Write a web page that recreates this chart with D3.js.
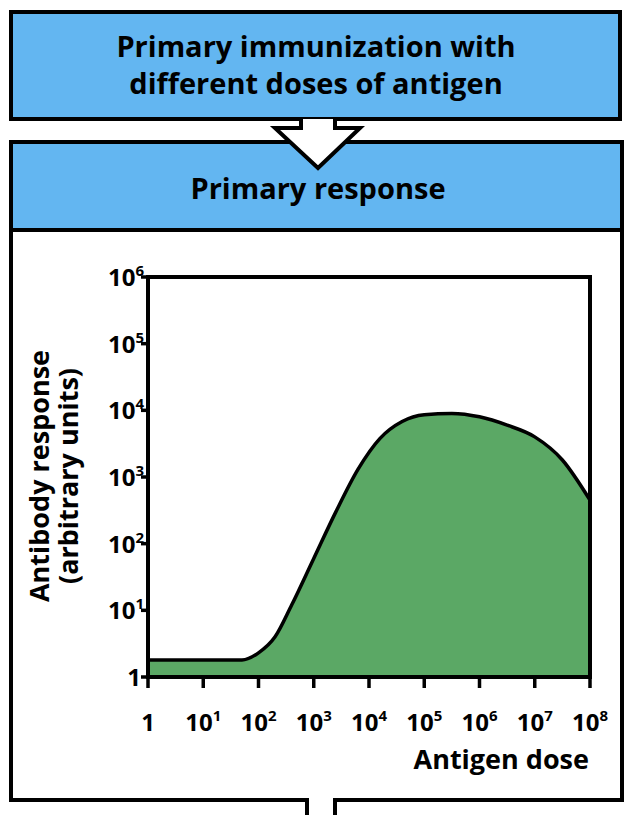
<!DOCTYPE html>
<html><head><meta charset="utf-8">
<script src="https://cdn.jsdelivr.net/npm/d3@7"></script>
<style>body{margin:0;background:#fff}text{font-family:"Liberation Sans Narrow","Open Sans",sans-serif;font-weight:bold}</style>
</head><body><svg id="c" width="633" height="815"></svg>
<script>
// antigen dose (log10) vs antibody response
var doseExp = [0, 1, 1.5, 1.7, 2, 2.3, 2.6, 3, 3.4, 3.8, 4.2, 4.6, 5, 5.5, 6, 6.5, 7, 7.5, 8];
var response = [1.8, 1.8, 1.8, 1.8, 2.3, 4, 12, 60, 300, 1300, 3800, 6800, 8600, 9000, 8000, 6000, 4000, 1800, 450];
var xTicks = [0, 1, 2, 3, 4, 5, 6, 7, 8];
var yTicks = [0, 1, 2, 3, 4, 5, 6];

var svg = d3.select("#c");
var blue = "#63b6f1", green = "#5ba865";

// boxes
svg.append("rect").attr("x",11).attr("y",12).attr("width",609).attr("height",107)
  .attr("fill",blue).attr("stroke","#000").attr("stroke-width",4);
svg.append("rect").attr("x",11).attr("y",142).attr("width",611).attr("height",658)
  .attr("fill","#fff").attr("stroke","#000").attr("stroke-width",4);
svg.append("rect").attr("x",11).attr("y",142).attr("width",611).attr("height",88)
  .attr("fill",blue).attr("stroke","#000").attr("stroke-width",4);
// arrow
svg.append("path").attr("d","M301,119 L301,128 L275,128 L318,168 L360,128 L335,128 L335,119")
  .attr("fill","#fff").attr("stroke","#000").attr("stroke-width",4).attr("stroke-linejoin","miter");
// bottom notch
svg.append("rect").attr("x",309).attr("y",798).attr("width",24).attr("height",20).attr("fill","#fff");
svg.append("path").attr("d","M307,800 L307,815 M335,800 L335,815").attr("stroke","#000").attr("stroke-width",4);

svg.append("text").attr("x",316).attr("y",57).attr("text-anchor","middle").attr("font-size",29).text("Primary immunization with");
svg.append("text").attr("x",316).attr("y",94).attr("text-anchor","middle").attr("font-size",29).text("different doses of antigen");
svg.append("text").attr("x",318).attr("y",199).attr("text-anchor","middle").attr("font-size",29).text("Primary response");

var x = d3.scaleLinear().domain([0,8]).range([148,590]);
var y = d3.scaleLog().domain([1,1e6]).range([677,277]);

var area = d3.area().x(function(d,i){return x(doseExp[i]);}).y0(y(1)).y1(function(d){return y(d);}).curve(d3.curveMonotoneX);
var line = d3.line().x(function(d,i){return x(doseExp[i]);}).y(function(d){return y(d);}).curve(d3.curveMonotoneX);
svg.append("path").datum(response).attr("d",area).attr("fill",green);
svg.append("path").datum(response).attr("d",line).attr("fill","none").attr("stroke","#000").attr("stroke-width",3.5);
svg.append("rect").attr("x",148).attr("y",277).attr("width",442).attr("height",400)
  .attr("fill","none").attr("stroke","#000").attr("stroke-width",4);

function sup(sel, e){
  if (e === 0) { sel.text("1"); return; }
  sel.append("tspan").text("10");
  sel.append("tspan").attr("font-size",15).attr("dy",-10).text(e);
}
var xa = svg.append("g").attr("transform","translate(0,677)");
xTicks.forEach(function(t){
  xa.append("line").attr("x1",x(t)).attr("x2",x(t)).attr("y1",0).attr("y2",11).attr("stroke","#000").attr("stroke-width",3.5);
  var tx = xa.append("text").attr("x",x(t)).attr("y",54).attr("text-anchor","middle").attr("font-size",24);
  sup(tx,t);
});
var ya = svg.append("g").attr("transform","translate(148,0)");
yTicks.forEach(function(t){
  var v = Math.pow(10,t);
  ya.append("line").attr("x1",-7).attr("x2",0).attr("y1",y(v)).attr("y2",y(v)).attr("stroke","#000").attr("stroke-width",3.5);
  var tx = ya.append("text").attr("x",t===0?-7:-4).attr("y",y(v)+9).attr("text-anchor","end").attr("font-size",24);
  sup(tx,t);
});

svg.append("text").attr("x",589).attr("y",769).attr("text-anchor","end").attr("font-size",27).text("Antigen dose");
svg.append("text").attr("transform","translate(49,476) rotate(-90)").attr("text-anchor","middle").attr("font-size",27).text("Antibody response");
svg.append("text").attr("transform","translate(78,476) rotate(-90)").attr("text-anchor","middle").attr("font-size",27).text("(arbitrary units)");
</script></body></html>
